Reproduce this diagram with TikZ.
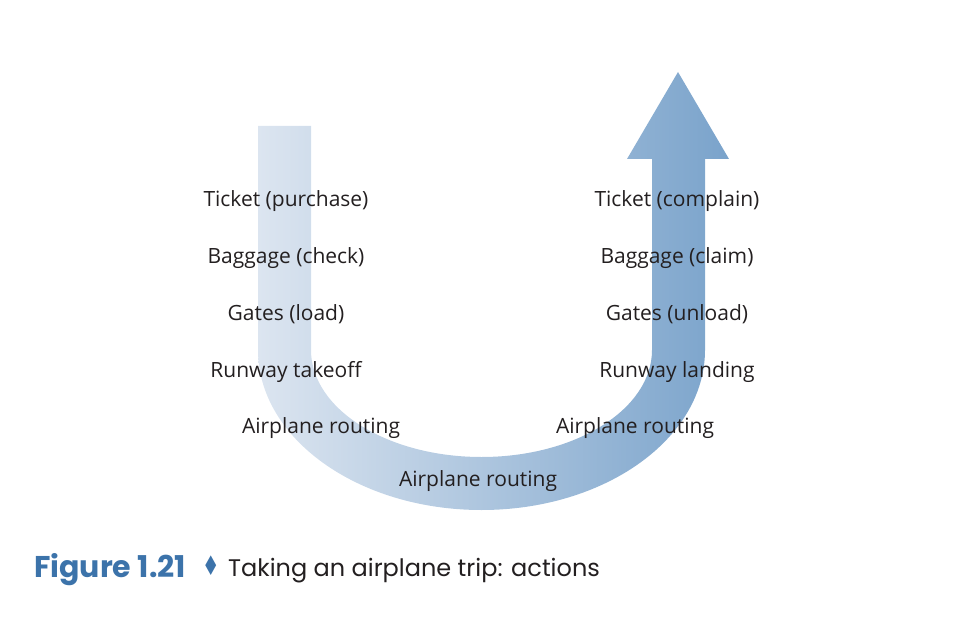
\documentclass[tikz,border=0pt]{standalone}
\usepackage{fontspec}
\setmainfont{Open Sans}
\newfontfamily\capfont{Poppins}
\newfontfamily\symfont{DejaVu Sans}
\definecolor{uleft}{RGB}{220,229,240}
\definecolor{uright}{RGB}{122,163,203}
\definecolor{txt}{RGB}{35,31,32}
\definecolor{capblue}{RGB}{60,115,170}
\tikzset{
  lbl/.style={font=\fontsize{21}{24}\selectfont, text=txt, inner sep=0pt, anchor=base},
}
\begin{document}
\begin{tikzpicture}[x=1pt,y=-1pt]
\useasboundingbox (0,0) rectangle (968,639);
% U-shaped arrow
\shade[left color=uleft, right color=uright]
  (258,126) -- (258,350)
  .. controls (258,438.4) and (358.1,510) .. (481.5,510)
  .. controls (604.9,510) and (705,438.4) .. (705,350)
  -- (705,159) -- (729,159) -- (678,72) -- (627,159) -- (652,159)
  -- (652,350)
  .. controls (652,409.1) and (575.7,457) .. (481.5,457)
  .. controls (387.3,457) and (311,409.1) .. (311,350)
  -- (311,126) -- cycle;
% labels left
\node[lbl] (t1) at (286,206) {Ticket (purchase)};
\node[lbl] (b1) at (286,263) {Baggage (check)};
\node[lbl] (g1) at (286,320) {Gates (load)};
\node[lbl] (r1) at (286,377) {Runway takeoff};
\node[lbl] (a1) at (321,433) {Airplane routing};
\node[lbl] (a2) at (478,486) {Airplane routing};
% labels right
\node[lbl] (t2) at (677,206) {Ticket (complain)};
\node[lbl] (b2) at (677,263) {Baggage (claim)};
\node[lbl] (g2) at (677,320) {Gates (unload)};
\node[lbl] (r2) at (677,377) {Runway landing};
\node[lbl] (a3) at (635,433) {Airplane routing};
% caption
\node[anchor=base west, inner sep=0pt, font=\capfont\bfseries\fontsize{30}{34}\selectfont, text=capblue] (fig) at (34,577) {Figure 1.21};
\node[anchor=base west, inner sep=0pt, font=\fontsize{27}{30}\selectfont, text=capblue, xscale=0.72] (dia) at (202,575) {\symfont ♦};
\node[anchor=base west, inner sep=0pt, font=\capfont\fontsize{24}{30}\selectfont, text=txt] (cap) at (228,576) {Taking an airplane trip: actions};
\end{tikzpicture}
\end{document}
